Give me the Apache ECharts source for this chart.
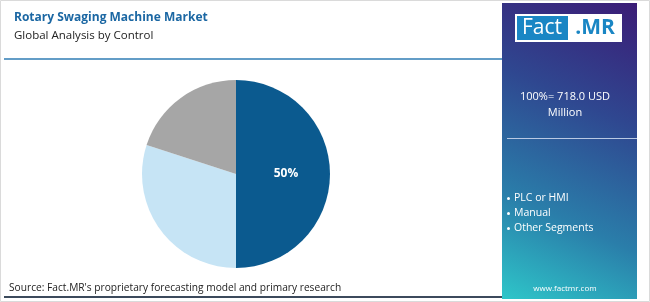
<!DOCTYPE html>
<html>
<head>
    <meta charset="utf-8">
    <title>Rotary Swaging Machine Market</title>
    <script src="https://cdn.jsdelivr.net/npm/echarts@6/dist/echarts.min.js"></script>
    <style>
        html, body { margin: 0; padding: 0; background: #fff; }
        #main { width: 650px; height: 302px; }
    </style>
</head>
<body>
    <div id="main"></div>
    <script type="text/javascript">
        // data
        var segments = ['PLC or HMI', 'Manual', 'Other Segments'];
        var shares = [50, 30, 20];
        var sliceColors = ['#0B5A8F', '#C6E4F5', '#A6A6A6'];
        var totalLabel = ['100%= 718.0 USD', 'Million'];

        var font = '"Open Sans", Lato, sans-serif';
        var myChart = echarts.init(document.getElementById('main'));

        var pieData = segments.map(function (name, i) {
            return {
                name: name,
                value: shares[i],
                itemStyle: { color: sliceColors[i] },
                label: { show: i === 0 }
            };
        });

        myChart.setOption({
            animation: false,
            title: [{
                text: 'Rotary Swaging Machine Market',
                left: 9, top: 7,
                textStyle: { fontFamily: font, fontSize: 12, fontWeight: 'bold', color: '#1B67A3' }
            }, {
                text: 'Global Analysis by Control',
                left: 9, top: 25,
                textStyle: { fontFamily: font, fontSize: 11.5, fontWeight: 'normal', color: '#222' }
            }],
            legend: {
                orient: 'vertical',
                left: 502, top: 188,
                itemGap: 4,
                icon: 'circle',
                itemWidth: 3, itemHeight: 3,
                itemStyle: { color: '#fff' },
                selectedMode: false,
                data: segments,
                textStyle: { fontFamily: font, fontSize: 10.5, color: '#fff', padding: [0, 0, 0, -1] }
            },
            graphic: [
                // outer frame
                { type: 'rect', z: -10, shape: { x: 0.5, y: 0.5, width: 649, height: 301 },
                  style: { fill: '#fff', stroke: '#DADADA', lineWidth: 1 } },
                // right panel
                { type: 'rect', z: -5, shape: { x: 502, y: 3, width: 135, height: 296 },
                  style: { fill: new echarts.graphic.LinearGradient(1, 0, 0, 1, [
                      { offset: 0, color: '#3B1C76' },
                      { offset: 0.35, color: '#2F4790' },
                      { offset: 0.7, color: '#2A7EAA' },
                      { offset: 1, color: '#2EC6C9' }
                  ]) } },
                // header rule and footer rule
                { type: 'line', shape: { x1: 4, y1: 59, x2: 502, y2: 59 },
                  style: { stroke: '#2F7DB5', lineWidth: 1.5 } },
                { type: 'line', shape: { x1: 4, y1: 297, x2: 502, y2: 297 },
                  style: { stroke: '#3C4A5C', lineWidth: 2 } },
                // logo
                { type: 'rect', shape: { x: 515, y: 14, width: 107, height: 28 }, style: { fill: '#fff' } },
                { type: 'rect', shape: { x: 517, y: 16, width: 51, height: 24 }, style: { fill: '#1A86C4' } },
                { type: 'text', style: { x: 542, y: 28, text: 'Fact', fill: '#fff', fontFamily: font,
                  fontSize: 21, align: 'center', verticalAlign: 'middle' } },
                { type: 'text', style: { x: 595, y: 28, text: '.MR', fill: '#1A86C4', fontFamily: font,
                  fontSize: 21, fontWeight: 'bold', align: 'center', verticalAlign: 'middle' } },
                // total
                { type: 'text', style: { x: 565, y: 97, text: totalLabel[0], fill: '#fff', fontFamily: font,
                  fontSize: 11, align: 'center', verticalAlign: 'middle' } },
                { type: 'text', style: { x: 565, y: 113, text: totalLabel[1], fill: '#fff', fontFamily: font,
                  fontSize: 11, align: 'center', verticalAlign: 'middle' } },
                { type: 'line', shape: { x1: 507, y1: 138.5, x2: 637, y2: 138.5 },
                  style: { stroke: '#B9C9E3', lineWidth: 1.2 } },
                { type: 'text', style: { x: 565, y: 289, text: 'www.factmr.com', fill: '#fff', fontFamily: font,
                  fontSize: 8, align: 'center', verticalAlign: 'middle' } },
                // source
                { type: 'text', style: { x: 9, y: 288, text: "Source: Fact.MR's proprietary forecasting model and primary research",
                  fill: '#222', fontFamily: font, fontSize: 10.2, verticalAlign: 'middle' } }
            ],
            series: [{
                type: 'pie',
                center: [236, 174],
                radius: 94,
                startAngle: 90,
                clockwise: true,
                silent: true,
                label: {
                    position: 'inside',
                    formatter: '{d}%',
                    color: '#fff',
                    fontFamily: font,
                    fontSize: 12,
                    fontWeight: 'bold'
                },
                labelLine: { show: false },
                data: pieData
            }]
        });
    </script>
</body>
</html>
